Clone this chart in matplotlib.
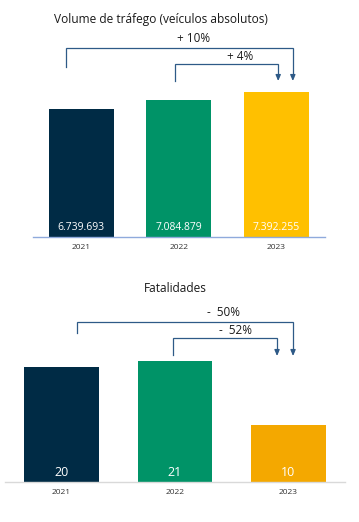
import matplotlib
matplotlib.use('Agg')
import matplotlib.pyplot as plt
from matplotlib.transforms import blended_transform_factory

plt.rcParams['font.family'] = ['Open Sans', 'DejaVu Sans']

# # data
years = ['2021', '2022', '2023']
traffic = [6739693, 7084879, 7392255]
fatalities = [20, 21, 10]
traffic_labels = ['6.739.693', '7.084.879', '7.392.255']
traffic_colors = ['#002B45', '#009367', '#FFC000']
fatal_colors = ['#002B45', '#009367', '#F4A800']
traffic_changes = ['+ 10%', '+ 4%']
fatal_changes = ['-  50%', '-  52%']

W, H = 359, 522
LINE = '#2E5A87'

fig = plt.figure(figsize=(W/100, H/100), dpi=100)


def fy(ypx):
    # pixel from top -> figure fraction
    return (H - ypx) / H


def bracket(ax, x0, x1, y_h, y_left, y_tip, label, lx, ly):
    tr = blended_transform_factory(ax.transData, fig.transFigure)
    ax.plot([x0, x0, x1, x1], [fy(y_left), fy(y_h), fy(y_h), fy(y_tip - 4)],
            color=LINE, lw=0.9, transform=tr, clip_on=False, solid_joinstyle='miter')
    ax.annotate('', xy=(x1, fy(y_tip)), xytext=(x1, fy(y_tip - 5)), xycoords=tr, textcoords=tr,
                arrowprops=dict(arrowstyle='-|>,head_length=0.35,head_width=0.15', color=LINE, lw=0.9,
                                shrinkA=0, shrinkB=0), annotation_clip=False)
    ax.text(lx, fy(ly), label, transform=tr, ha='center', va='center', fontsize=8.5, color='#1a1a1a')


def style(ax, spine_color):
    for s in ['top', 'right', 'left']:
        ax.spines[s].set_visible(False)
    ax.spines['bottom'].set_color(spine_color)
    ax.spines['bottom'].set_linewidth(1.0)
    ax.set_yticks([])
    ax.set_xticks(range(len(years)))
    ax.set_xticklabels(years, fontsize=6, color='#333333')
    ax.tick_params(axis='x', length=0, pad=5)
    ax.set_xlim(-0.5, 2.5)


# # top chart
ax1 = fig.add_axes([32.5/W, fy(237), 292.5/W, 175/H])
ax1.bar(range(3), traffic, width=0.667, color=traffic_colors, bottom=0)
ax1.set_ylim(1.83e6, 1.83e6 + 175/26.05e-6)
style(ax1, '#8FAADC')
for i, lab in enumerate(traffic_labels):
    ax1.annotate(lab, (i, 1.83e6), xytext=(0, 6.5), textcoords='offset points',
                 ha='center', va='center', color='white', fontsize=7.5)
fig.text(161/W, fy(20), 'Volume de tráfego (veículos absolutos)', ha='center', va='center',
         fontsize=8.6, color='#1a1a1a')
bracket(ax1, -0.16, 2.17, 48, 67, 81, traffic_changes[0], 1.156, 38)
bracket(ax1, 0.96, 2.02, 64, 81, 81, traffic_changes[1], 1.63, 57)

# # bottom chart
ax2 = fig.add_axes([4.75/W, fy(482), 340.5/W, 142/H])
ax2.bar(range(3), fatalities, width=0.66, color=fatal_colors)
ax2.set_ylim(0, 142/5.75)
style(ax2, '#D9D9D9')
for i, v in enumerate(fatalities):
    ax2.annotate(str(v), (i, 0), xytext=(0, 6.5), textcoords='offset points',
                 ha='center', va='center', color='white', fontsize=9)
fig.text(175/W, fy(289), 'Fatalidades', ha='center', va='center', fontsize=8.6, color='#1a1a1a')
bracket(ax2, 0.137, 2.04, 322, 333, 356, fatal_changes[0], 1.423, 313)
bracket(ax2, 0.982, 1.899, 338, 355, 356, fatal_changes[1], 1.529, 331)

fig.savefig('out.png', dpi=100)
